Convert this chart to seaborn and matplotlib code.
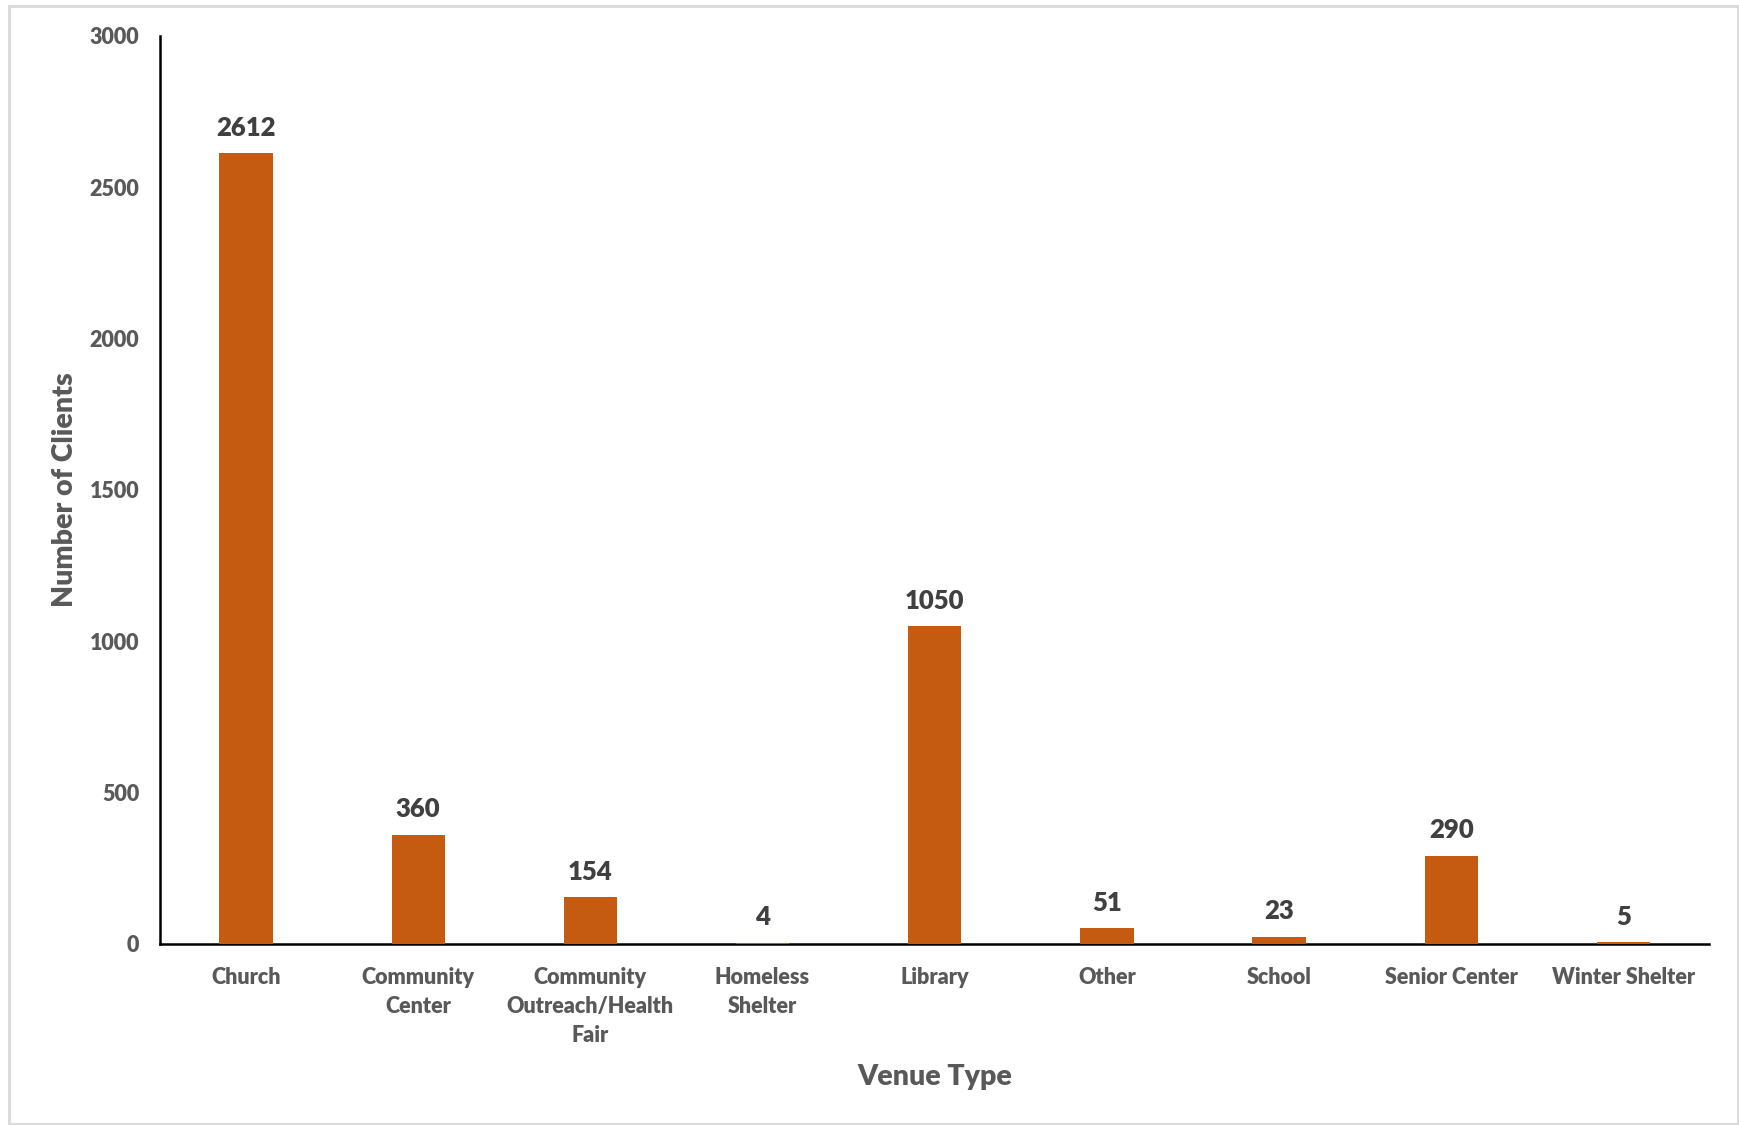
import matplotlib
matplotlib.use("Agg")
import matplotlib.pyplot as plt
from matplotlib.patches import Rectangle
import seaborn as sns
import pandas as pd

venues = ["Church", "Community\nCenter", "Community\nOutreach/Health\nFair",
          "Homeless\nShelter", "Library", "Other", "School", "Senior Center",
          "Winter Shelter"]
clients = [2612, 360, 154, 4, 1050, 51, 23, 290, 5]

df = pd.DataFrame({"venue": venues, "clients": clients})

sns.set_style("white")
plt.rcParams["font.family"] = ["Lato", "DejaVu Sans"]
plt.rcParams["font.weight"] = "heavy"

fig = plt.figure(figsize=(17.39, 11.25), dpi=100)
# light gray chart frame like the original
fig.patches.append(Rectangle((9 / 1739, 0.001), 1 - 10 / 1739, 1 - 7 / 1125,
                             transform=fig.transFigure, fill=False,
                             edgecolor="#D9D9D9", linewidth=2))
ax = fig.add_axes([0.092, 0.161, 0.891, 0.807])

sns.barplot(data=df, x="venue", y="clients", color="#C55A11", saturation=1,
            width=0.31, ax=ax, zorder=3, linewidth=0)

for i, v in enumerate(clients):
    ax.text(i, v + 45, str(v), ha="center", va="bottom", fontsize=18.5,
            fontweight="heavy", color="#404040")

ax.set_xlim(-0.5, 8.5)
ax.set_ylim(0, 3000)
ax.set_yticks([0, 500, 1000, 1500, 2000, 2500, 3000])
ax.tick_params(axis="both", length=0, colors="#595959", labelsize=15.5)
ax.tick_params(axis="x", pad=17)
ax.tick_params(axis="y", pad=15)
for lbl in ax.get_xticklabels() + ax.get_yticklabels():
    lbl.set_fontweight("heavy")
    lbl.set_linespacing(1.45)

ax.set_xlabel("Venue Type", fontsize=20.5, fontweight="heavy", color="#595959",
              labelpad=13)
ax.set_ylabel("Number of Clients", fontsize=20.5, fontweight="heavy",
              color="#595959", labelpad=8)

sns.despine(ax=ax)
for s in ["left", "bottom"]:
    ax.spines[s].set_color("black")
    ax.spines[s].set_linewidth(1.8)
    ax.spines[s].set_zorder(2)

fig.savefig("out.png", dpi=100)
